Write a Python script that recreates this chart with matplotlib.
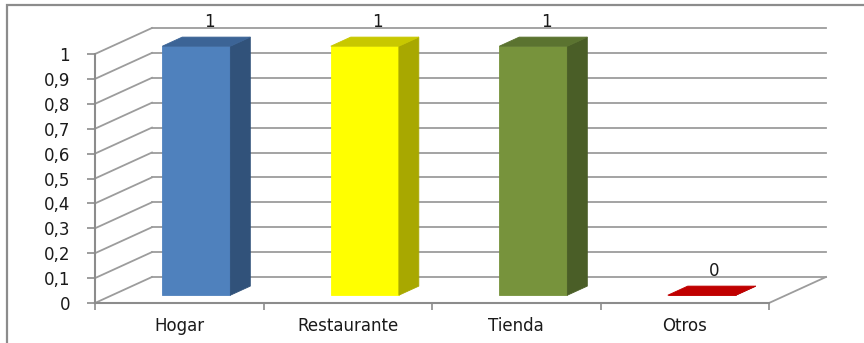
import matplotlib.pyplot as plt
from matplotlib.patches import Polygon, Rectangle

categorias = ['Hogar', 'Restaurante', 'Tienda', 'Otros']
valores = [1, 1, 1, 0]
niveles_y = [0, 0.1, 0.2, 0.3, 0.4, 0.5, 0.6, 0.7, 0.8, 0.9, 1]
etiquetas_y = ['0', '0,1', '0,2', '0,3', '0,4', '0,5', '0,6', '0,7', '0,8', '0,9', '1']

# colores de cada barra: frente, tapa, costado
col_frente = ['#4F81BD', '#FFFF00', '#77933C', '#C00000']
col_tapa = ['#3C6496', '#C8C800', '#5B7330', '#C00000']
col_lado = ['#31527A', '#A8A800', '#4A5E27', '#900000']

GRIS = '#9C9C9C'
DX, DY = 0.338, 0.1044      # desplazamiento de la profundidad completa (en unidades de datos)
Z0, Z1 = 0.30, 0.65         # profundidad del frente y fondo de cada barra
ANCHO = 0.404


def proy(x, y, z):
    return (x + z * DX, y + z * DY)


fig = plt.figure(figsize=(8.64, 3.43), dpi=100)
ax = fig.add_axes([95 / 864, 40 / 343, 674 / 864, 249 / 343])
ax.set_xlim(-0.5, 3.5)
ax.set_ylim(0, 1)
ax.set_facecolor('none')

# pared del fondo y pared izquierda
for v in niveles_y:
    ax.plot([proy(-0.5, v, 0)[0], proy(-0.5, v, 1)[0]],
            [proy(-0.5, v, 0)[1], proy(-0.5, v, 1)[1]],
            color=GRIS, lw=1.3, clip_on=False, zorder=1)
    ax.plot([proy(-0.5, v, 1)[0], proy(3.5, v, 1)[0]],
            [proy(-0.5, v, 1)[1], proy(3.5, v, 1)[1]],
            color=GRIS, lw=1.3, clip_on=False, zorder=1)

# borde derecho del piso
ax.plot([proy(3.5, 0, 0)[0], proy(3.5, 0, 1)[0]],
        [proy(3.5, 0, 0)[1], proy(3.5, 0, 1)[1]],
        color=GRIS, lw=1.3, clip_on=False, zorder=1)

# barras
for i, v in enumerate(valores):
    x0, x1 = i - ANCHO / 2, i + ANCHO / 2
    frente = [proy(x0, 0, Z0), proy(x1, 0, Z0), proy(x1, v, Z0), proy(x0, v, Z0)]
    lado = [proy(x1, 0, Z0), proy(x1, 0, Z1), proy(x1, v, Z1), proy(x1, v, Z0)]
    tapa = [proy(x0, v, Z0), proy(x1, v, Z0), proy(x1, v, Z1), proy(x0, v, Z1)]
    for cara, c in ((frente, col_frente[i]), (lado, col_lado[i]), (tapa, col_tapa[i])):
        ax.add_patch(Polygon(cara, closed=True, facecolor=c, edgecolor=c,
                             lw=0.6, clip_on=False, zorder=3))
    xt, yt = proy(i, v, (Z0 + Z1) / 2)
    ax.annotate(str(v), (xt, yt), xytext=(2, 8), textcoords='offset points',
                ha='center', va='bottom', fontsize=12, color='#1A1A1A',
                annotation_clip=False, zorder=4)

# ejes
for lado_eje in ('top', 'right'):
    ax.spines[lado_eje].set_visible(False)
for lado_eje in ('left', 'bottom'):
    ax.spines[lado_eje].set_color('#8C8C8C')
    ax.spines[lado_eje].set_linewidth(1.5)
    ax.spines[lado_eje].set_zorder(2)

ax.set_yticks(niveles_y)
ax.set_yticklabels(etiquetas_y)
ax.tick_params(axis='y', direction='out', length=6, width=1.2, color='#8C8C8C',
               pad=12, labelsize=12, labelcolor='#1A1A1A')

ax.set_xticks(range(len(categorias)))
ax.set_xticklabels(categorias)
ax.set_xticks([-0.5, 0.5, 1.5, 2.5, 3.5], minor=True)
ax.tick_params(axis='x', which='major', length=0, pad=10, labelsize=12,
               labelcolor='#1A1A1A')
ax.tick_params(axis='x', which='minor', direction='out', length=5, width=1.2,
               color='#8C8C8C')

# marco exterior del gráfico
fig.add_artist(Rectangle((7 / 864, -0.1), 1.2, 1.1 - 5 / 343,
                         transform=fig.transFigure, facecolor='none',
                         edgecolor='#8C8C8C', lw=1.6))

fig.savefig('out.png', dpi=100)
